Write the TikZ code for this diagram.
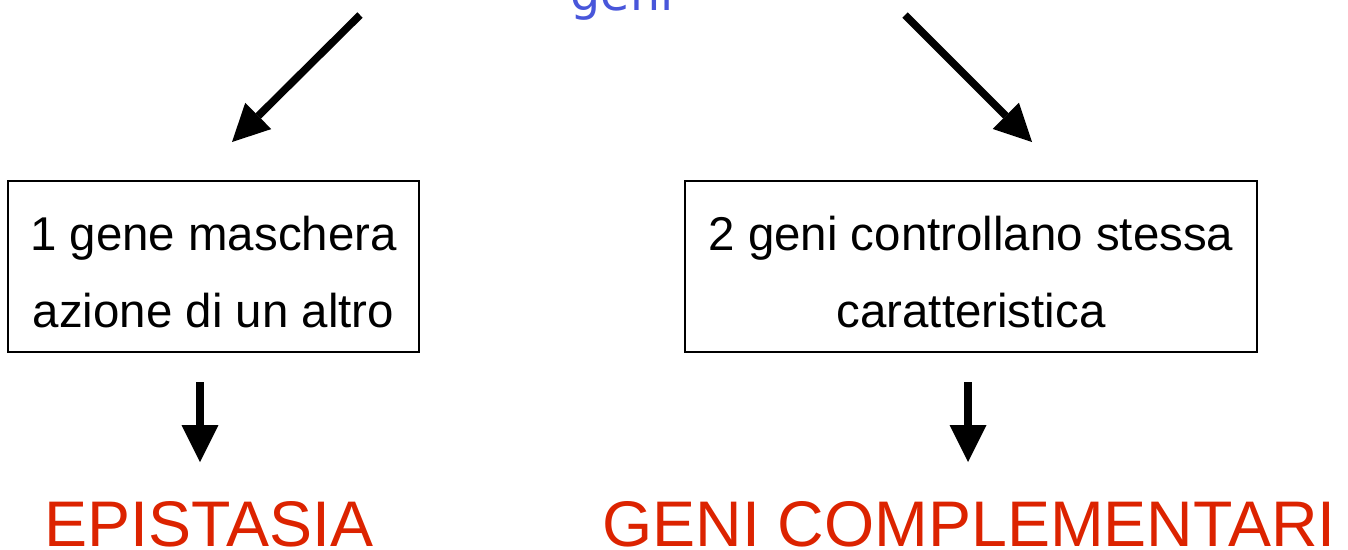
\documentclass[tikz,border=0pt]{standalone}
\usepackage{fontspec}
\setmainfont{Liberation Sans}
\newfontfamily\genifont{DejaVu Sans}
\usetikzlibrary{arrows.meta}
\definecolor{geniblue}{RGB}{72,86,218}
\definecolor{termred}{RGB}{220,35,0}
\newcommand{\firstline}{\rule{0pt}{0.9cm}}
\tikzset{
  arr/.style={line width=0.15cm, -{Triangle[length=0.74cm, width=0.74cm, line width=0pt]}},
  textbox/.style={draw, line width=0.85pt, align=center, inner sep=0pt, minimum height=3.42cm,
    font=\fontsize{27}{44}\selectfont},
  term/.style={text=termred, inner sep=0pt, anchor=base, font=\fontsize{36.7}{40}\selectfont}
}
\begin{document}
\begin{tikzpicture}[x=0.02cm, y=-0.02cm]
                    \useasboundingbox (0,0) rectangle (1348,549);
                    \node (geni) [text=geniblue, anchor=base, inner sep=0pt, font=\genifont\fontsize{27}{30}\selectfont] at (622,10){geni};
                    \node (left) [textbox, minimum width=8.22cm] at (213.5,266.5){\firstline 1 gene maschera\\azione di un altro};
                    \node (right) [textbox, minimum width=11.44cm] at (971,266.5){\firstline 2 geni controllano stessa\\caratteristica};
                    \node (epi) [term] at (209,546.5){EPISTASIA};
                    \node (compl) [term] at (969,546.5){GENI COMPLEMENTARI};
                    \coordinate (ls) at (360,15);
                    \coordinate (le) at (232,142);
                    \coordinate (rs) at (905,15);
                    \coordinate (re) at (1032,142);
                    \draw [arr] (ls) -- (le);
                    \draw [arr] (rs) -- (re);
                    \coordinate (ld) at (200,382);
                    \coordinate (rd) at (968,382);
                    \draw [arr] (ld) -- (ld |- 0,462);
                    \draw [arr] (rd) -- (rd |- 0,462);
                \end{tikzpicture}
\end{document}
